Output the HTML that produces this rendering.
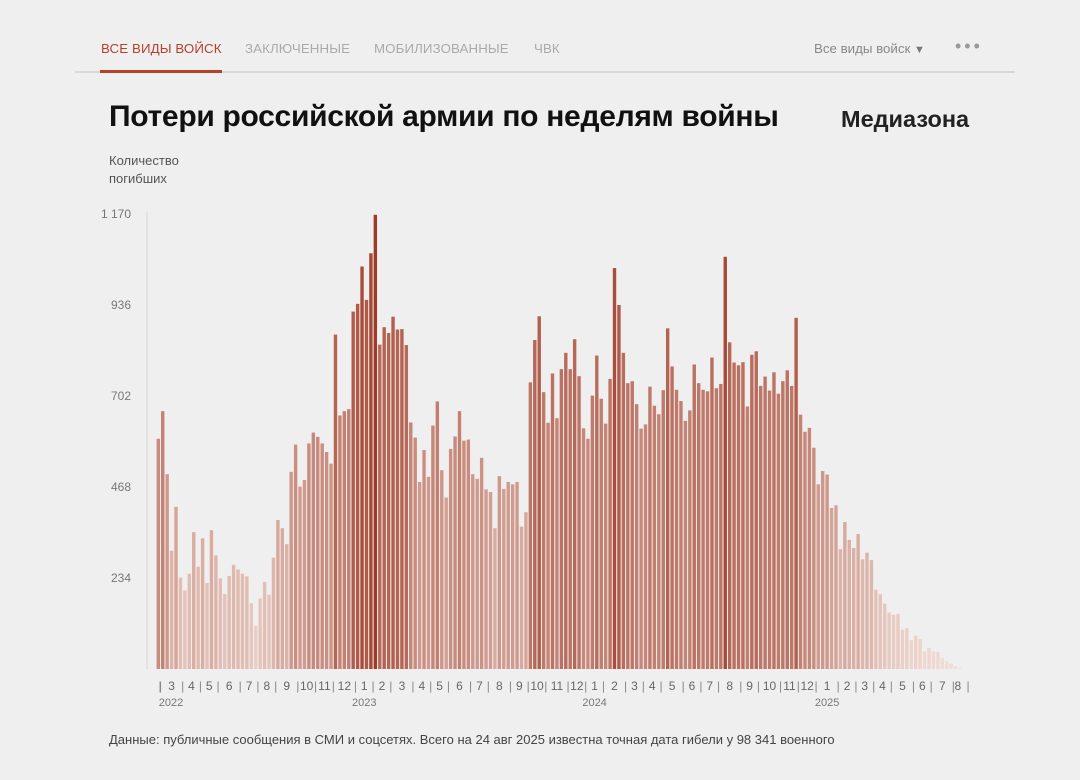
<!DOCTYPE html>
<html><head><meta charset="utf-8">
<style>
body{margin:0;width:1080px;height:780px;background:#efefef;font-family:"Liberation Sans",sans-serif;position:relative;overflow:hidden}
.abs{position:absolute;white-space:nowrap}
.tab{position:absolute;top:41px;font-size:13.3px;color:#aaa;letter-spacing:0.1px}
</style></head><body>
<div class="abs" style="left:75px;top:71px;width:940px;height:2px;background:#d8d8d8"></div>
<div class="tab" style="left:101px;color:#b5402c">ВСЕ ВИДЫ ВОЙСК</div>
<div class="abs" style="left:100px;top:70px;width:122px;height:3px;background:#b5402c"></div>
<div class="tab" style="left:245px">ЗАКЛЮЧЕННЫЕ</div>
<div class="tab" style="left:374px">МОБИЛИЗОВАННЫЕ</div>
<div class="tab" style="left:534px">ЧВК</div>
<div class="abs" style="left:814px;top:41px;font-size:13.3px;color:#888">Все виды войск <span style="font-size:11px;color:#777">▼</span></div>
<div class="abs" style="left:955px;top:36px;font-size:18px;color:#999;letter-spacing:3px">•••</div>
<div class="abs" style="left:109px;top:100px;font-size:30px;font-weight:bold;color:#111;letter-spacing:-0.3px">Потери российской армии по неделям войны</div>
<div class="abs" style="left:841px;top:106px;font-size:23.5px;font-weight:bold;color:#222">Медиазона</div>
<div class="abs" style="left:109px;top:152px;font-size:13px;line-height:18px;color:#555">Количество<br>погибших</div>
<div class="abs" style="left:109px;top:732px;font-size:13px;color:#444">Данные: публичные сообщения в СМИ и соцсетях. Всего на 24 авг 2025 известна точная дата гибели у 98 341 военного</div>
<svg id="chart" width="1080" height="780" style="position:absolute;left:0;top:0"></svg>
<script>
const values=[592,663,501,304,417,235,202,245,352,263,336,221,357,292,233,193,239,268,256,245,238,169,111,181,224,191,286,383,362,321,507,577,469,486,580,608,597,580,558,528,860,652,663,668,919,939,1035,949,1069,1168,834,879,864,906,873,874,833,634,595,481,563,494,626,688,511,441,566,598,663,587,590,501,489,543,462,455,362,496,463,481,475,481,366,403,737,846,907,712,633,760,645,771,813,771,848,753,619,592,703,806,695,631,746,1031,936,813,735,740,681,618,629,726,677,655,717,876,778,718,689,638,665,783,735,718,714,801,722,733,1060,840,788,781,789,675,808,817,728,752,716,763,708,740,768,728,903,654,610,620,569,475,509,500,414,421,308,378,332,311,347,282,299,280,204,192,168,145,139,141,101,105,74,86,77,45,54,45,44,28,20,14,7,3];
const yTicks=[234,468,702,936,1170];
const tickLabels=["234","468","702","936","1 170"];
const yMax=1170;
const startDate="2022-02-24";
const svg=document.getElementById('chart');
const NS='http://www.w3.org/2000/svg';
const x0=158.3,x1=960,y0=669,yTop=214;
const pitch=(x1-x0)/(values.length-1);
const bw=3.4;
function xs(i){return x0+i*pitch;}
function ys(v){return y0-(v/yMax)*(y0-yTop);}
function mk(t,a){const e=document.createElementNS(NS,t);for(const k in a)e.setAttribute(k,a[k]);svg.appendChild(e);return e;}
const axis=mk('line',{x1:147,x2:147,y1:212,y2:669,stroke:'#d6d6d6','stroke-width':1});


yTicks.forEach((t,i)=>{
 const tx=mk('text',{x:131,y:ys(t)+4,'text-anchor':'end','font-size':12,fill:'#777','font-family':'Liberation Sans'});
 tx.textContent=tickLabels[i];
 
 
});
function col(v){const f=Math.min(1,v/yMax);
 const a=[242,222,214],b=[160,58,38];
 return 'rgb('+a.map((c,k)=>Math.round(c+(b[k]-c)*f)).join(',')+')';}
values.forEach((v,i)=>{
 const r=mk('rect',{x:xs(i)-bw/2,y:ys(v),width:bw,height:y0-ys(v),fill:col(v)});
 
 
});
const sd=new Date(startDate+"T00:00:00Z");
const months=[];
values.forEach((v,i)=>{const d=new Date(sd.getTime()+i*7*864e5);
 const key=d.getUTCFullYear()*12+d.getUTCMonth();
 if(!months.length||months[months.length-1].key!==key)months.push({key,m:d.getUTCMonth()+1,y:d.getUTCFullYear(),s:i,e:i});
 else months[months.length-1].e=i;});
function txt(x,y,s,size,fill,name){const t=mk('text',{x:x,y:y,'text-anchor':'middle','font-size':size,fill:fill,'font-family':'Liberation Sans'});t.textContent=s;
 
 return t;}
months.forEach((mo,j)=>{
 if(j>0){txt(xs(mo.s)-pitch/2,690,'|',12,'#888','month-separator');}
 if(mo.e-mo.s>=1){txt((xs(mo.s)+xs(mo.e))/2,690,String(mo.m),12,'#666','month-label');}
 if(mo.m===1){txt((xs(mo.s)+xs(mo.e))/2,706,String(mo.y),11,'#777','year-label');}
});
txt(160,690,'|',12,'#888','month-separator');
txt(968,690,'|',12,'#888','month-separator');
txt(171,706,'2022',11,'#777','year-label');
</script>
</body></html>
